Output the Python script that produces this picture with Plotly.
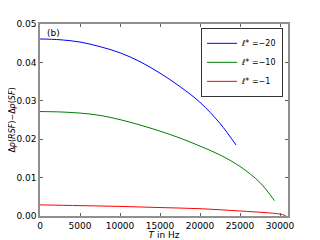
import plotly.graph_objects as go

T_blue = [0, 2500, 5000, 7500, 10000, 12500, 15000, 17500, 20000, 22500, 24500]
v_blue = [0.0461, 0.0459, 0.0453, 0.0441, 0.0425, 0.0402, 0.0372, 0.0337, 0.0296, 0.0241, 0.0185]

T_green = [0, 2500, 5000, 7500, 10000, 12500, 15000, 17500, 20000, 22500, 25000, 27500, 29300]
v_green = [0.0272, 0.0271, 0.0268, 0.0262, 0.0251, 0.0237, 0.0221, 0.0203, 0.0182, 0.0159, 0.0129, 0.0087, 0.0040]

T_red = [0, 5000, 10000, 15000, 20000, 25000, 28000, 30000, 30700]
v_red = [0.0029, 0.0027, 0.0025, 0.0022, 0.0019, 0.0013, 0.0009, 0.0005, 0.0001]

x_ticks = [0, 5000, 10000, 15000, 20000, 25000, 30000]
x_ticklabels = ["0", "5000", "10000", "15000", "20000", "25000", "30000"]
y_ticks = [0, 0.01, 0.02, 0.03, 0.04, 0.05]
y_ticklabels = ["0.00", "0.01", "0.02", "0.03", "0.04", "0.05"]

names = ["<i>ℓ</i>* =−20", "<i>ℓ</i>* =−10", "<i>ℓ</i>* =−1"]
colors = ["#0000ff", "#008000", "#ff0000"]

fig = go.Figure()
for T, v, n, c in zip([T_blue, T_green, T_red], [v_blue, v_green, v_red], names, colors):
    fig.add_trace(go.Scatter(x=T, y=v, mode="lines", name=n,
                             line=dict(color=c, width=1, shape="spline")))

axis_common = dict(showline=True, linecolor="#909090", linewidth=1.5, mirror="ticks",
                   ticks="inside", ticklen=3, tickcolor="#606060", showgrid=False,
                   zeroline=False, automargin=False, tickfont=dict(size=9, color="black"))

fig.update_layout(
    width=312, height=232,
    margin=dict(l=32, r=32, t=16, b=24),
    paper_bgcolor="white", plot_bgcolor="white",
    font=dict(family="DejaVu Sans", size=9, color="black"),
    xaxis=dict(range=[0, 31000], tickvals=x_ticks, ticktext=x_ticklabels,
               title=dict(text="<i>T</i> in Hz", standoff=0, font=dict(size=9)), **axis_common),
    yaxis=dict(range=[0, 0.05], tickvals=y_ticks, ticktext=y_ticklabels,
               title=dict(text="Δ<i>p</i>(<i>RSF</i>)−Δ<i>p</i>(<i>SF</i>)", standoff=2, font=dict(size=8)),
               **axis_common),
    legend=dict(x=0.98, y=0.98, xanchor="right", yanchor="top", bgcolor="white",
                bordercolor="#333333", borderwidth=1, font=dict(size=8),
                itemwidth=30, tracegroupgap=0),
    showlegend=True,
)
fig.add_annotation(text="(b)", xref="paper", yref="paper", x=0.02, y=0.99,
                   xanchor="left", yanchor="top", showarrow=False, font=dict(size=9))

fig.write_html("out.html")
